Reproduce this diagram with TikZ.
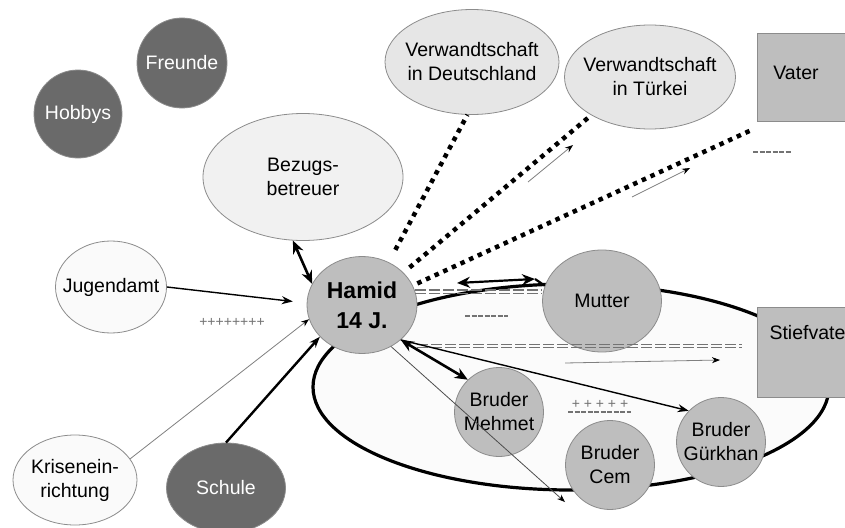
\documentclass[tikz,border=0pt]{standalone}
\usepackage{fontspec}
\setmainfont{Liberation Sans}
\usetikzlibrary{calc, shapes.geometric, arrows.meta, positioning}
\definecolor{ecodark}{HTML}{6A6A6A}
\definecolor{ecomid}{HTML}{BEBEBE}
\definecolor{ecolight}{HTML}{E6E6E6}
\definecolor{ecopale}{HTML}{F1F1F1}
\definecolor{ecowhite}{HTML}{FAFAFA}
\definecolor{ecoline}{HTML}{8C8C8C}

\begin{document}
\begin{tikzpicture}[x=1pt, y=-1pt,
    font=\fontsize{19.5}{24}\selectfont,
    bubble/.style={ellipse, draw=ecoline, line width=0.8pt, inner sep=-12pt, align=center},
    darkbubble/.style={bubble, fill=ecodark, text=white},
    kinbubble/.style={bubble, fill=ecomid},
    relbox/.style={rectangle, draw=ecoline, line width=0.8pt, fill=ecomid, inner sep=0pt, anchor=north west},
    strong/.style={line width=2.6pt, {Stealth[length=13pt,width=11pt]}-{Stealth[length=13pt,width=11pt]}},
    medium/.style={line width=1.4pt, -{Stealth[length=11pt,width=8pt]}},
    faint/.style={draw=gray, line width=0.8pt, -{Stealth[length=8pt,width=6pt,color=black]}},
    dotline/.style={line width=4.5pt, dash pattern=on 4.5pt off 5pt},
    dblbar/.style={draw=black!55, line width=1.3pt, dash pattern=on 11pt off 3pt},
    minusline/.style={draw=black!55, line width=1.2pt, dash pattern=on 5pt off 1.5pt},
    plusnote/.style={text=black!55, font=\fontsize{14}{16}\selectfont}
]
    \useasboundingbox (0,0) rectangle (845,527);
    \fill[white] (0,0) rectangle (845,527);

    % Family circle
    \node[ellipse, draw=black, line width=3.2pt, fill=gray!3, minimum width=516, minimum height=206] (familie) at (571,387) {};

    % Outside world
    \node[darkbubble, minimum size=90] (freunde) at (182,63) {Freunde};
    \node[darkbubble, minimum size=88] (hobbys) at (78,114) {Hobbys};
    \node[bubble, fill=ecopale, minimum width=200, minimum height=127] (bezugs) at (303,177) {Bezugs-\\betreuer};
    \node[bubble, fill=ecolight, minimum width=174, minimum height=105] (verwd) at (472,62) {Verwandtschaft\\in Deutschland};
    \node[bubble, fill=ecolight, minimum width=171, minimum height=104] (verwt) at (650,77) {Verwandtschaft\\in Türkei};
    \node[bubble, fill=ecowhite, minimum width=111, minimum height=92] (jugendamt) at (111,287) {Jugendamt};
    \node[bubble, fill=ecowhite, minimum width=124, minimum height=90] (krise) at (75,480) {Krisenein-\\richtung};
    \node[darkbubble, minimum width=119, minimum height=90] (schule) at (226,488) {Schule};

    % Parents
    \node[relbox, minimum width=95, minimum height=88] (vater) at (757,33) {};
    \node (vatername) at (796,73) {Vater};
    \node[relbox, minimum width=95, minimum height=90] (stiefvater) at (757,307) {};
    \node[anchor=west] (stiefname) at (766,333) {Stiefvate};

    % Hamid and family
    \node[kinbubble, minimum width=110, minimum height=97, font=\fontsize{23}{30}\selectfont\bfseries] (hamid) at (362,305) {Hamid\\14 J.};
    \node[kinbubble, minimum width=119, minimum height=102] (mutter) at (602,301) {Mutter};
    \foreach \name/\x/\y/\txt in {mehmet/499/412/{Bruder\\Mehmet}, cem/610/465/{Bruder\\Cem}, guerkhan/721/442/{Bruder\\Gürkhan}} {
        \node[kinbubble, minimum size=89] (\name) at (\x,\y) {\txt};
    }

    % Ties to the outside
    \draw[strong] (bezugs.261) -- (hamid.157);
    \draw[medium, shorten >=14pt] (jugendamt.east) -- (hamid.178);
    \draw[faint] (krise.21) -- (hamid.195);
    \draw[medium, line width=2.4pt] (schule.north) -- (hamid.217);
    \node[plusnote] (plus1) at (232,322) {++++++++};

    % Relatives, dotted
    \draw[dotline, shorten <=14pt] (hamid.58) -- (verwd.265);
    \draw[dotline, shorten <=8pt] (hamid.38) -- (verwt.213);
    \draw[dotline, shorten <=5pt] (hamid.21) -- ([shift={(-5,8)}]vater.south west);
    \coordinate (tr1) at (528,182);
    \coordinate (tr2) at (573,145);
    \coordinate (va1) at (632,197);
    \coordinate (va2) at (690,168);
    \draw[faint] (tr1) -- (tr2);
    \draw[faint] (va1) -- (va2);
    \draw[minusline] (753,152) -- (792,152);

    % Mother
    \coordinate (mu1) at (457,283);
    \coordinate (mu2) at (535,279);
    \draw[strong, line width=2.2pt] (mu1) -- (mu2);
    \draw[line width=2.2pt] (mu2) -- (mutter.165);
    \coordinate (bar1) at (hamid.14);
    \coordinate (bar2) at (bar1 -| mutter.west);
    \draw[dblbar] ([yshift=1.7pt]bar1) -- ([yshift=1.7pt]bar2);
    \draw[dblbar] ([yshift=-1.7pt]bar1) -- ([yshift=-1.7pt]bar2);
    \draw[minusline] (465,316) -- (508,316);

    % Stepfather
    \coordinate (bar3) at ([yshift=-41pt]hamid.east);
    \coordinate (bar4) at (bar3 -| stiefvater.west);
    \draw[dblbar] ([yshift=1.7pt]bar3) -- ([shift={(-15,-1.7)}]bar4);
    \draw[dblbar] ([yshift=-1.7pt]bar3) -- ([shift={(-15,1.7)}]bar4);
    \coordinate (st1) at (565,363);
    \coordinate (st2) at (720,360);
    \draw[faint] (st1) -- (st2);

    % Brothers
    \draw[strong] (hamid.-42) -- (mehmet.134);
    \draw[medium] (hamid.-42) -- (guerkhan.136);
    \coordinate (cemtip) at (565,502);
    \draw[faint, draw=black!70] (hamid.-55) -- (cemtip);
    \node[plusnote] (plus2) at (600,404) {+ + + + +};
    \draw[minusline] (568,412) -- (631,412);
\end{tikzpicture}
\end{document}
